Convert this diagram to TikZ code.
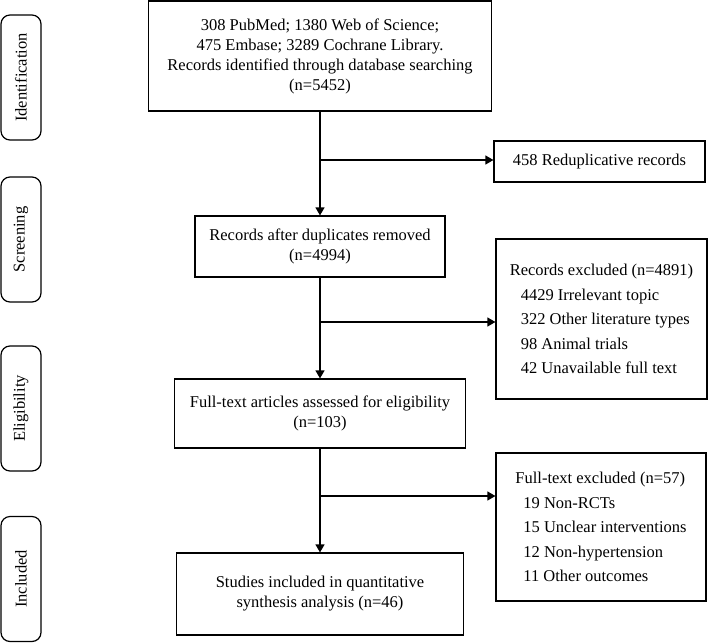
\documentclass[tikz,border=0pt]{standalone}
\usepackage{fontspec}
\setmainfont{Liberation Serif}
\usetikzlibrary{arrows.meta}

\begin{document}
\begin{tikzpicture}[
  x=1pt, y=-1pt,
  line width=1.2pt,
  >={Triangle[length=8pt,width=9pt]},
  stage/.style={
    draw, rounded corners=9pt, rotate=90,
    minimum width=125pt, minimum height=40pt,
    inner sep=0pt, font=\fontsize{16.5}{20}\selectfont
  },
  box/.style={
    draw, align=center, inner sep=0pt,
    font=\fontsize{16.5}{20}\selectfont
  },
  sidebox/.style={
    draw, align=left, inner sep=0pt,
    font=\fontsize{16.5}{24.5}\selectfont
  }
]
  \useasboundingbox (0,0) rectangle (708,642);
  \foreach \y/\n/\lab in {77.5/sid/Identification, 239.5/sscr/Screening,
      408.5/selig/Eligibility, 579/sincl/Included} {
    \node[stage] (\n) at (21,\y) {\lab};
  }
  \node[box, minimum width=343pt, minimum height=110pt] (src) at (320,56)
    {308 PubMed; 1380 Web of Science;\\475 Embase; 3289 Cochrane Library.\\
     Records identified through database searching\\(n=5452)};
  \node[box, minimum width=250pt, minimum height=61pt] (scr) at (320,246.5)
    {Records after duplicates removed\\(n=4994)};
  \node[box, minimum width=291pt, minimum height=69pt] (ft) at (320,413.5)
    {Full-text articles assessed for eligibility\\(n=103)};
  \node[box, minimum width=287pt, minimum height=82pt] (inc) at (320,594)
    {Studies included in quantitative\\synthesis analysis (n=46)};
  \node[box, minimum width=211pt, minimum height=41pt] (dup) at (599.5,161.5)
    {458 Reduplicative records};
  \node[sidebox, minimum width=211pt, minimum height=160pt] (excl) at (601.5,319)
    {Records excluded (n=4891)\\
     \hspace*{11pt}4429 Irrelevant topic\\
     \hspace*{11pt}322 Other literature types\\
     \hspace*{11pt}98 Animal trials\\
     \hspace*{11pt}42 Unavailable full text};
  \node[sidebox, minimum width=210pt, minimum height=148pt] (ftex) at (601,527)
    {Full-text excluded (n=57)\\
     \hspace*{8pt}19 Non-RCTs\\
     \hspace*{8pt}15 Unclear interventions\\
     \hspace*{8pt}12 Non-hypertension\\
     \hspace*{8pt}11 Other outcomes};
  \draw[->] (src)--(scr);
  \draw[->] (scr)--(ft);
  \draw[->] (ft)--(inc);
  \foreach \y/\t in {160/dup, 322/excl, 496/ftex} {
    \coordinate (j\t) at (320,\y);
    \draw[->] (j\t)--(j\t -| \t.west);
  }
\end{tikzpicture}
\end{document}
